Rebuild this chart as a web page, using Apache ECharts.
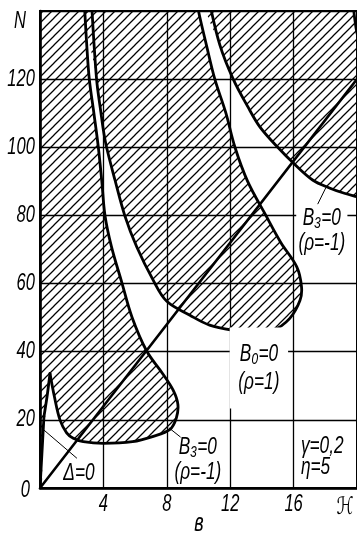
<!DOCTYPE html>
<html>
<head>
<meta charset="utf-8">
<style>
  html, body { margin: 0; padding: 0; background: #fff; }
  #main { width: 357px; height: 538px; }
</style>
<script src="https://cdn.jsdelivr.net/npm/echarts@6/dist/echarts.min.js"></script>
</head>
<body>
<div id="main"></div>
<script>
// points as [ℋ, N]
// lower-left field: from the top, down to the bulge, back along the bottom to the cusp
var curveA = [[2.8,142],[2.95,130],[3.11,120],[3.4,110],[3.68,100],[3.9,90],[4.1,80],[4.5,71],
  [5.15,60.5],[5.8,50.2],[6.73,40.2],[7.73,33.6],[8.4,28.7],[8.7,24.5],[8.6,20.5],[8.2,17.2],
  [7.1,15.1],[5.84,13.6],[4.0,13.1],[2.73,13.6],[2.1,14.6],[1.68,16.2],[1.26,20],[0.9,27],[0.63,33.6]]
var cuspArm = [[0.63,33.6],[0.45,27],[0.25,21]]
var deltaZero = [[0.25,21],[0.12,10],[0,0]]
// B0 = 0 (rho = 1), the U shaped field
var curveB0 = [[3.26,142],[3.57,120],[3.85,110],[4.0,105],[4.2,100],[4.73,90.4],[5.36,79.8],[6.1,70.8],
  [7.14,61],[8.0,54.8],[9.46,50.7],[10.7,47.8],[12.2,46.3],[13.45,45.8],[14.7,46.3],[15.76,49.8],
  [16.4,55],[16.5,59],[16.2,64.9],[15.2,72],[14.25,80],[13.1,90],[12.3,100],[11.73,110],[11.03,120],
  [10.5,130],[10.0,140],[9.97,142]]
// B3 = 0 (rho = -1), upper right field
var curveB3 = [[10.72,142],[11.35,130],[12.19,120],[13.1,112],[13.87,106],[15.0,100],[16.0,95.3],
  [17.2,90.4],[18.3,88],[19.2,86.5],[20,85.5],[20.4,85]]
var cornerCurve = [[19.76,142],[19.85,138],[20,133.5],[20.3,129]]
var diagonal = [[0,0],[20,120]]
var leaders = [
  [[0.25,17],[2.31,8.8]],
  [[8.15,17.6],[8.85,15]],
  [[13.76,45.9],[14.3,43]],
  [[18.03,88.1],[17.53,83.4]]
]
var xTickLabels = [4, 8, 12, 16]
var yTickLabels = [0, 20, 40, 60, 80, 100, 120]
var noteTexts = ['B₃=0\n(ρ=-1)', 'B₀=0\n(ρ=1)', 'B₃=0\n(ρ=-1)', 'γ=0,2\nη=5', 'Δ=0']
var noteAt = [[17.78,75.5],[13.81,35.2],[9.96,8.2],[16.46,9.1],[2.46,4.4]]

var FONT = '"Liberation Sans","DejaVu Sans",sans-serif'
var SMOOTH = 0.35
var NARROW = 0.72

// 45 degree hatching tile
var tile = document.createElement('canvas')
tile.width = 9
tile.height = 9
var tc = tile.getContext('2d')
tc.strokeStyle = '#000'
tc.lineWidth = 1.25
tc.beginPath()
tc.moveTo(-1, 10); tc.lineTo(10, -1)
tc.moveTo(-2, 2); tc.lineTo(2, -2)
tc.moveTo(7, 11); tc.lineTo(11, 7)
tc.stroke()
var hatch = { image: tile, repeat: 'repeat' }

function clipOf(cs) {
  return { type: 'rect', shape: { x: cs.x, y: cs.y, width: cs.width, height: cs.height } }
}

function fillSeries(points) {
  return {
    type: 'custom', silent: true, z: 1, data: [[0, 0]],
    renderItem: function (params, api) {
      return {
        type: 'group', clipPath: clipOf(params.coordSys),
        children: [{
          type: 'polygon',
          shape: { points: points.map(function (p) { return api.coord(p) }), smooth: SMOOTH },
          style: { fill: hatch, stroke: null }
        }]
      }
    }
  }
}

function strokeSeries(lines, width, smooth) {
  return {
    type: 'custom', silent: true, z: 3, data: [[0, 0]],
    renderItem: function (params, api) {
      return {
        type: 'group', clipPath: clipOf(params.coordSys),
        children: lines.map(function (pts) {
          return {
            type: 'polyline',
            shape: { points: pts.map(function (p) { return api.coord(p) }), smooth: smooth },
            style: { stroke: '#000', lineWidth: width, fill: null, lineJoin: 'round', lineCap: 'round' }
          }
        })
      }
    }
  }
}

function label(x, y, text, size, align, extra) {
  var style = {
    text: text, fill: '#000', fontSize: size, fontStyle: 'italic', fontFamily: FONT,
    align: align, verticalAlign: 'middle'
  }
  for (var k in extra) style[k] = extra[k]
  return { type: 'text', x: x, y: y, scaleX: NARROW, style: style }
}

var regionLeft = [[-1,142]].concat(curveA, cuspArm.slice(1), deltaZero.slice(1), [[-1,0]])
var regionRight = curveB3.concat([[20.6,85],[20.6,129]], cornerCurve.slice().reverse())

var myChart = echarts.init(document.getElementById('main'))
var axisCommon = {
  type: 'value',
  axisLine: { lineStyle: { color: '#000', width: 2.6 } },
  axisTick: { show: false },
  axisLabel: { show: false },
  splitLine: { lineStyle: { color: '#000', width: 1.3 } }
}
var option = {
  animation: false,
  backgroundColor: '#fff',
  grid: { left: 40, right: 0, top: 11, bottom: 50, show: true, borderColor: '#000', borderWidth: 2 },
  xAxis: Object.assign({ min: 0, max: 20, interval: 4 }, axisCommon),
  yAxis: Object.assign({ min: 0, max: 140, interval: 20 }, axisCommon),
  graphic: [
    label(20, 22, 'N', 23, 'center', {}),
    label(345, 507, 'ℋ', 24, 'center', {}),
    label(199, 524, 'в', 25, 'center', {})
  ],
  series: [
    fillSeries(regionLeft),
    fillSeries(curveB0),
    fillSeries(regionRight),
    strokeSeries([curveA, cuspArm, deltaZero, curveB0, curveB3, cornerCurve], 2.8, SMOOTH),
    strokeSeries([diagonal], 2.6, 0),
    strokeSeries(leaders, 1, 0),
    {
      // tick labels and notes
      type: 'custom', silent: true, z: 5, data: [[0, 0]],
      renderItem: function (params, api) {
        var kids = []
        xTickLabels.forEach(function (v) {
          var p = api.coord([v, 0])
          kids.push(label(p[0], p[1] + 17, String(v), 23, 'center', {}))
        })
        yTickLabels.forEach(function (v) {
          var p = api.coord([0, v])
          kids.push(label(p[0] - (v === 0 ? 10 : 5), p[1] + (v === 0 ? 3 : 0), String(v), 23, 'right', {}))
        })
        noteTexts.forEach(function (t, i) {
          var p = api.coord(noteAt[i])
          kids.push(label(p[0], p[1], t, 24, i === 3 ? 'left' : 'center', {
            lineHeight: i === 1 ? 28 : (i === 3 ? 21 : 25),
            backgroundColor: i < 2 ? '#fff' : null,
            padding: i === 1 ? [3, 12, 22, 12] : (i === 0 ? [1, 3, 1, 3] : 0)
          }))
        })
        return { type: 'group', children: kids }
      }
    }
  ]
}
myChart.setOption(option)
</script>
</body>
</html>
